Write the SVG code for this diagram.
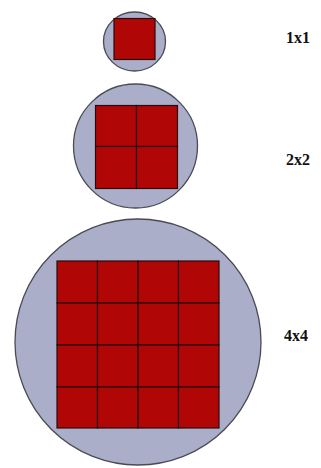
<svg xmlns="http://www.w3.org/2000/svg" width="321" height="468" viewBox="0 0 321 468">
<style>
.disc{fill:#abaec9;stroke:#4a4a55;stroke-width:1.3}
.cell{fill:#b00606;stroke:#2a0a0a;stroke-width:1.2}
.lbl{font-family:"Liberation Serif","Times New Roman",serif;font-weight:bold;font-size:16px;fill:#111}
</style>
<rect width="321" height="468" fill="#ffffff"/>
<g id="n1x1">
<ellipse class="disc" cx="134.5" cy="41.5" rx="31" ry="29.5"/>
<rect class="cell" x="114" y="18.5" width="41" height="41"/>
<text class="lbl" x="286" y="43">1x1</text>
</g>
<g id="n2x2">
<circle class="disc" cx="135.5" cy="146" r="62"/>
<rect class="cell" x="95.5" y="105.5" width="41" height="41"/>
<rect class="cell" x="136.5" y="105.5" width="41" height="41"/>
<rect class="cell" x="95.5" y="146.5" width="41" height="42"/>
<rect class="cell" x="136.5" y="146.5" width="41" height="42"/>
<text class="lbl" x="286" y="165">2x2</text>
</g>
<g id="n4x4">
<circle class="disc" cx="138" cy="342" r="123"/>
<rect class="cell" x="57" y="261" width="40.5" height="42"/>
<rect class="cell" x="97.5" y="261" width="40.5" height="42"/>
<rect class="cell" x="138" y="261" width="40.5" height="42"/>
<rect class="cell" x="178.5" y="261" width="40.5" height="42"/>
<rect class="cell" x="57" y="303" width="40.5" height="42"/>
<rect class="cell" x="97.5" y="303" width="40.5" height="42"/>
<rect class="cell" x="138" y="303" width="40.5" height="42"/>
<rect class="cell" x="178.5" y="303" width="40.5" height="42"/>
<rect class="cell" x="57" y="345" width="40.5" height="42"/>
<rect class="cell" x="97.5" y="345" width="40.5" height="42"/>
<rect class="cell" x="138" y="345" width="40.5" height="42"/>
<rect class="cell" x="178.5" y="345" width="40.5" height="42"/>
<rect class="cell" x="57" y="387" width="40.5" height="41"/>
<rect class="cell" x="97.5" y="387" width="40.5" height="41"/>
<rect class="cell" x="138" y="387" width="40.5" height="41"/>
<rect class="cell" x="178.5" y="387" width="40.5" height="41"/>
<text class="lbl" x="284" y="341">4x4</text>
</g>
</svg>
